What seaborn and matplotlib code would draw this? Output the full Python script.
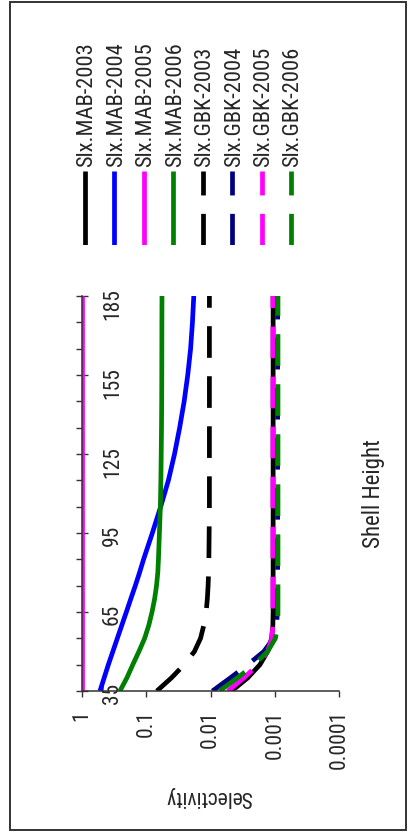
import numpy as np
import pandas as pd
import matplotlib
matplotlib.use("Agg")
import matplotlib.pyplot as plt
import seaborn as sns
from matplotlib.ticker import FixedLocator, NullLocator, FixedFormatter
from matplotlib.patches import Rectangle
from matplotlib.transforms import offset_copy

# ---------------- data ----------------
shell_height = [35, 40, 45, 50, 55, 60, 65, 70, 75, 80, 85, 95, 105,
                115, 125, 135, 145, 155, 165, 175, 185]

slx_mab_2003 = [0.00468, 0.00263, 0.00170, 0.00129, 0.00112, 0.00107, 0.00106,
                0.00106, 0.00106, 0.00106, 0.00106, 0.00106, 0.00106, 0.00106,
                0.00106, 0.00106, 0.00106, 0.00106, 0.00106, 0.00106, 0.00106]
slx_mab_2004 = [0.525, 0.452, 0.389, 0.331, 0.282, 0.240, 0.204, 0.174, 0.148,
                0.127, 0.110, 0.0804, 0.0596, 0.0452, 0.0363, 0.0302, 0.0257,
                0.0226, 0.0204, 0.0191, 0.0182]
slx_mab_2005 = [1.0] * 21
slx_mab_2006 = [0.257, 0.200, 0.162, 0.130, 0.106, 0.0912, 0.0813, 0.0741,
                0.0692, 0.0661, 0.0646, 0.0624, 0.0603, 0.0592, 0.0585, 0.0579,
                0.0575, 0.0573, 0.0572, 0.0571, 0.0569]
slx_gbk_2003 = [0.0684, 0.0405, 0.0257, 0.0178, 0.0143, 0.0127, 0.0117, 0.0112,
                0.0109, 0.0107, 0.0106, 0.0105, 0.0104, 0.0104, 0.0104, 0.0104,
                0.0104, 0.0104, 0.0104, 0.0104, 0.0104]
slx_gbk_2004 = [0.00933, 0.00490, 0.00263, 0.00148, 0.00105, 0.000933, 0.000912,
                0.000902, 0.000902, 0.000902, 0.000902, 0.000902, 0.000902,
                0.000902, 0.000902, 0.000902, 0.000902, 0.000902, 0.000902,
                0.000902, 0.000902]
slx_gbk_2005 = [0.00537, 0.00302, 0.00182, 0.00129, 0.00111, 0.00107, 0.00107,
                0.00107, 0.00107, 0.00107, 0.00107, 0.00107, 0.00107, 0.00107,
                0.00107, 0.00107, 0.00107, 0.00107, 0.00107, 0.00107, 0.00107]
slx_gbk_2006 = [0.00724, 0.00380, 0.00209, 0.00129, 0.000977, 0.000902, 0.000891,
                0.000891, 0.000891, 0.000891, 0.000891, 0.000891, 0.000891,
                0.000891, 0.000891, 0.000891, 0.000891, 0.000891, 0.000891,
                0.000891, 0.000891]

series_names = ["Slx.MAB-2003", "Slx.MAB-2004", "Slx.MAB-2005", "Slx.MAB-2006",
                "Slx.GBK-2003", "Slx.GBK-2004", "Slx.GBK-2005", "Slx.GBK-2006"]
series_values = [slx_mab_2003, slx_mab_2004, slx_mab_2005, slx_mab_2006,
                 slx_gbk_2003, slx_gbk_2004, slx_gbk_2005, slx_gbk_2006]
series_colors = ["#000000", "#0000FF", "#FF00FF", "#008000",
                 "#000000", "#000080", "#FF00FF", "#008000"]
series_dashed = [False, False, False, False, True, True, True, True]

sel_ticks = [1, 0.1, 0.01, 0.001, 0.0001]
sel_tick_labels = ["1", "0.1", "0.01", "0.001", "0.0001"]
sh_major = [35, 65, 95, 125, 155, 185]
sh_minor = [35, 45, 55, 65, 75, 85, 95, 105, 115, 125, 135, 145, 155, 165, 175, 185]

# ---------------- style ----------------
sns.set_theme(style="white")
plt.rcParams["font.family"] = ["Roboto Condensed", "Liberation Sans", "DejaVu Sans"]
plt.rcParams["axes.linewidth"] = 1.1

FS_TICK = 15.5
FS_SEL = 15.5
FS_SH = 16.5
FS_LEG = 16.2
LW = 3.4
DASH = (0, (6.7, 3.9))
AXC = "#333333"

rows = []
for name, vals in zip(series_names, series_values):
    for h, v in zip(shell_height, vals):
        rows.append({"Series": name, "Shell Height": h, "Selectivity": v})
df = pd.DataFrame(rows)

fig = plt.figure(figsize=(4.08, 8.36), dpi=100)
fig.patch.set_facecolor("white")

# main axes: the chart is drawn turned a quarter turn (selectivity across, shell height up)
ax = fig.add_axes([82 / 408, 145 / 836, 257 / 408, 395 / 836])
ax.set_xscale("log")
ax.set_xlim(1, 0.0001)
ax.set_ylim(35, 185)

for name, col, dashed in zip(series_names, series_colors, series_dashed):
    sub = df[df["Series"] == name]
    sns.lineplot(data=sub, x="Selectivity", y="Shell Height", sort=False,
                 estimator=None, color=col, lw=LW,
                 linestyle=DASH if dashed else "-",
                 solid_capstyle="butt", dash_capstyle="butt",
                 legend=False, ax=ax)

ax.set_facecolor("white")
for s in ["top", "right"]:
    ax.spines[s].set_visible(False)
for s in ["left", "bottom"]:
    ax.spines[s].set_color(AXC)
    ax.spines[s].set_linewidth(1.1)

ax.xaxis.set_major_locator(FixedLocator(sel_ticks))
ax.xaxis.set_major_formatter(FixedFormatter(sel_tick_labels))
ax.xaxis.set_minor_locator(NullLocator())
ax.yaxis.set_major_locator(FixedLocator(sh_major))
ax.yaxis.set_minor_locator(FixedLocator(sh_minor))
ax.yaxis.set_major_formatter(FixedFormatter([str(v) for v in sh_major]))

ax.tick_params(axis="x", which="major", direction="out", length=4.3, width=1.0,
               color=AXC, pad=9.4, labelrotation=90, labelsize=FS_TICK, bottom=True)
ax.tick_params(axis="y", which="major", direction="inout", length=8.6, width=1.0,
               color=AXC, pad=-18.7, labelrotation=90, labelsize=FS_TICK, left=True)
ax.tick_params(axis="y", which="minor", direction="out", length=4.3, width=1.0,
               color=AXC, left=True)
for lab in ax.get_yticklabels():
    lab.set_horizontalalignment("left")

ax.set_xlabel("Selectivity", fontsize=FS_SEL, rotation=180, rotation_mode="anchor",
              va="baseline", ha="center")
ax.xaxis.set_label_coords(0.494, -0.253)
ax.set_ylabel("Shell Height", fontsize=FS_SH, rotation=90, rotation_mode="anchor",
              va="baseline", ha="center")
ax.yaxis.set_label_coords(1.1595, 0.5)

# legend, laid out in its own small axes (turned like the chart)
axl = fig.add_axes([70.3 / 408, 591 / 836, 235.4 / 408, 74 / 836])
axl.set_xlim(-0.5, 7.5)
axl.set_ylim(0, 1)
axl.axis("off")
txt_tr = offset_copy(axl.transData, fig=fig, x=2, y=4, units="dots")
for i, (name, col, dashed) in enumerate(zip(series_names, series_colors, series_dashed)):
    axl.plot([i, i], [0, 1], color=col, lw=LW, linestyle=DASH if dashed else "-",
             solid_capstyle="butt", dash_capstyle="butt")
    axl.text(i, 1, name, rotation=90, ha="center", va="bottom", fontsize=FS_LEG,
             transform=txt_tr, clip_on=False)

# outer chart border
fig.add_artist(Rectangle((10 / 408, 6 / 836), 396 / 408, 828 / 836,
                         transform=fig.transFigure, fill=False,
                         edgecolor="#333333", lw=1.4))

fig.savefig("out.png", dpi=100, facecolor="white")
